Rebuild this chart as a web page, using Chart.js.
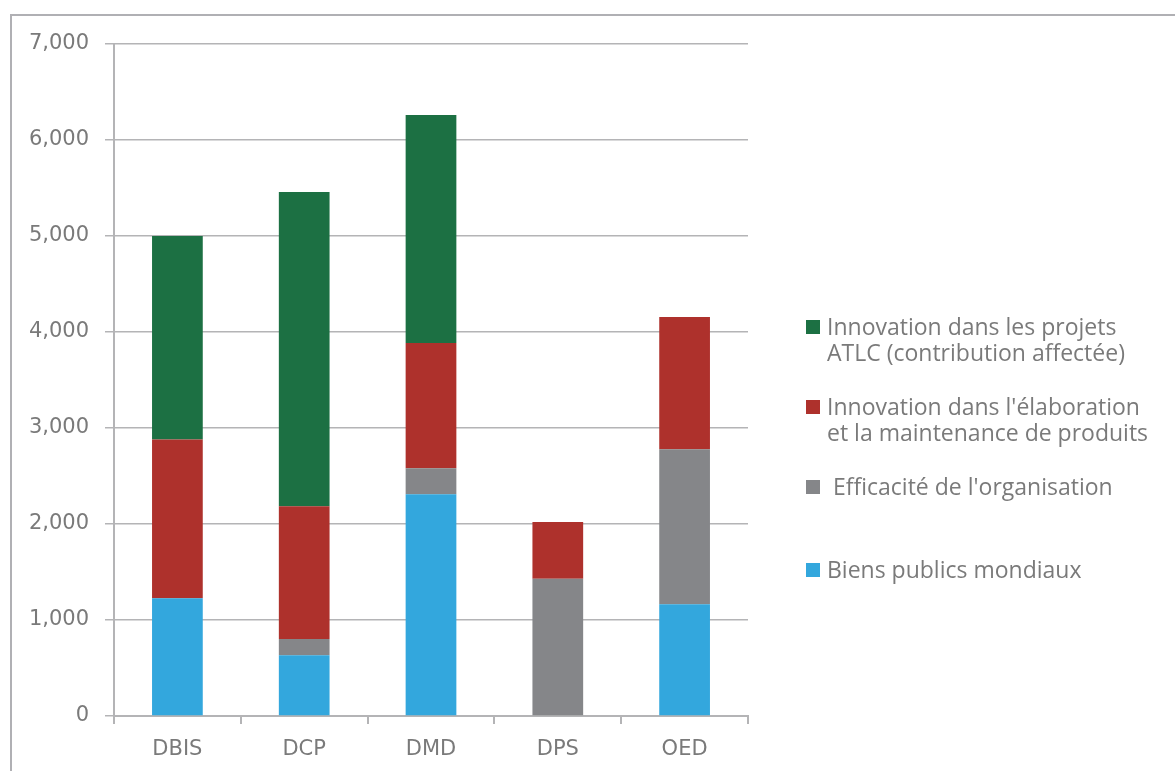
<!DOCTYPE html>
<html>
<head>
<meta charset="utf-8">
<script src="https://cdn.jsdelivr.net/npm/chart.js@4"></script>
<style>
  html, body { margin: 0; padding: 0; background: #fff; }
  #wrap { position: relative; width: 1175px; height: 771px; overflow: hidden; }
  #frame { position: absolute; left: 10px; top: 14px; width: 1200px; height: 800px; border: 2px solid #b0b0b4; box-sizing: border-box; }
  #barChart { position: absolute; left: 0; top: 0; }
  #legend { position: absolute; left: 806px; top: 313px; font-family: "Open Sans", sans-serif; font-size: 23px; color: #7a7a7a; }
  .item { position: relative; height: 80px; padding-left: 21px; line-height: 26px; }
  .item:last-child { margin-top: 3px; }
  .sw { position: absolute; left: 0; top: 7px; width: 14px; height: 14px; }
</style>
</head>
<body>
<div id="wrap">
  <div id="frame"></div>
  <canvas id="barChart" width="1175" height="771"></canvas>
  <div id="legend"></div>
</div>
<script>
/* data */
const categories = ['DBIS', 'DCP', 'DMD', 'DPS', 'OED']
const biensPublics = [1226, 632, 2309, 0, 1163]
const efficacite = [0, 170, 271, 1430, 1615]
const innovProduits = [1654, 1382, 1305, 591, 1378]
const innovATLC = [2120, 3274, 2375, 0, 0]
const yTicks = [0, 1000, 2000, 3000, 4000, 5000, 6000, 7000]

const seriesNames = [
  'Biens publics mondiaux',
  ' Efficacité de l\'organisation',
  ['Innovation dans l\'élaboration', 'et la maintenance de produits'],
  ['Innovation dans les projets', 'ATLC (contribution affectée)']
]
const seriesColors = ['#33a7dd', '#858689', '#ae312c', '#1c7043']
const seriesData = [biensPublics, efficacite, innovProduits, innovATLC]

const axisColor = '#b4b4b6'
const textColor = '#7a7a7a'

const datasets = seriesData.map((d, i) => ({
  label: [].concat(seriesNames[i]).join(' '),
  data: d,
  backgroundColor: seriesColors[i],
  borderWidth: 0,
  barPercentage: 0.4,
  categoryPercentage: 1
}))

new Chart(document.getElementById('barChart'), {
  type: 'bar',
  data: { labels: categories, datasets: datasets },
  options: {
    responsive: false,
    animation: false,
    layout: { padding: { left: 0, top: 44, right: 427, bottom: 0 } },
    plugins: { legend: { display: false }, tooltip: { enabled: false } },
    scales: {
      x: {
        stacked: true,
        grid: { offset: true, drawOnChartArea: false, drawTicks: true, tickLength: 8, color: axisColor, lineWidth: 2 },
        border: { color: axisColor, width: 2 },
        ticks: { color: textColor, padding: 13, font: { family: 'DejaVu Sans', size: 21 } },
        afterFit: s => { s.height = 55 }
      },
      y: {
        stacked: true,
        min: 0,
        max: 7000,
        afterBuildTicks: s => { s.ticks = yTicks.map(v => ({ value: v })) },
        grid: { color: axisColor, lineWidth: 1.5, tickLength: 9 },
        border: { color: axisColor, width: 2 },
        ticks: {
          color: textColor, padding: 16, font: { family: 'DejaVu Sans', size: 21 },
          callback: v => v.toLocaleString('en-US')
        },
        afterFit: s => { s.width = 114 }
      }
    }
  }
})

/* legend, top series first like the original */
const legend = document.getElementById('legend')
for (let i = seriesNames.length - 1; i >= 0; i--) {
  const item = document.createElement('div')
  item.className = 'item'
  const sw = document.createElement('span')
  sw.className = 'sw'
  sw.style.background = seriesColors[i]
  item.appendChild(sw)
  ;[].concat(seriesNames[i]).forEach(line => {
    const t = document.createElement('div')
    t.textContent = line
    t.style.whiteSpace = 'pre'
    item.appendChild(t)
  })
  legend.appendChild(item)
}
</script>
</body>
</html>
